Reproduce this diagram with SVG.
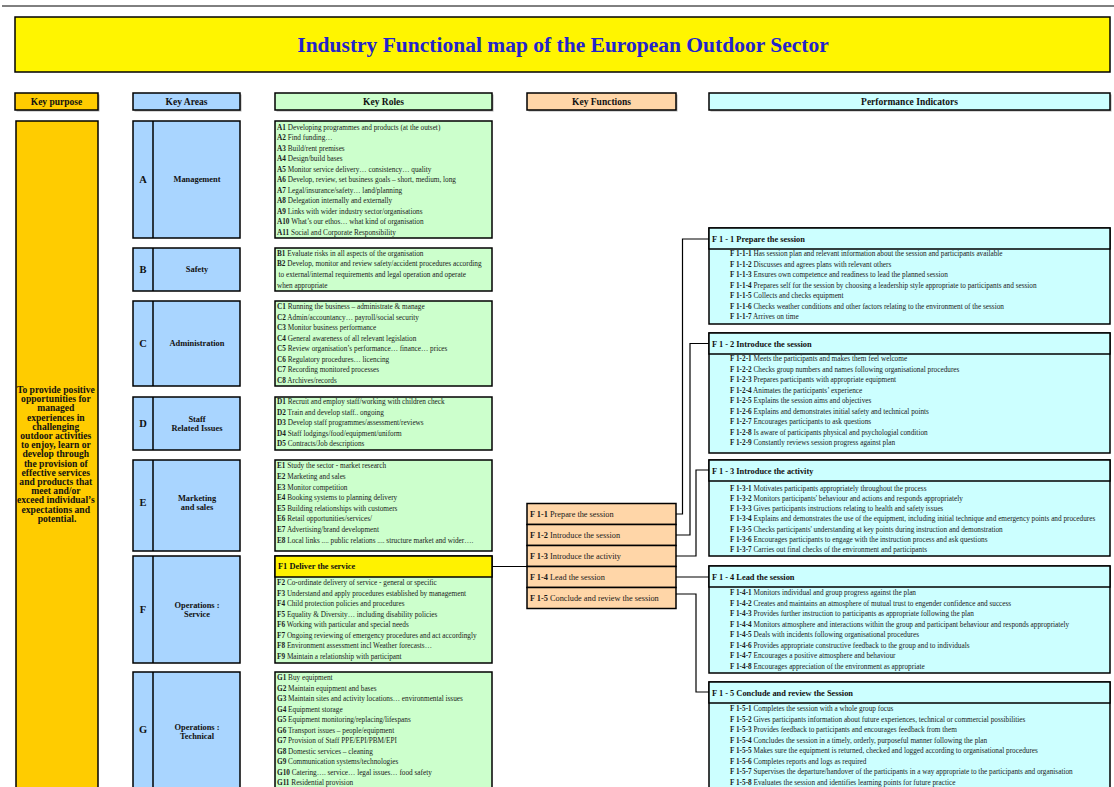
<svg xmlns="http://www.w3.org/2000/svg" width="1114" height="787" viewBox="0 0 1114 787">
<defs>
<style>
.t{font-family:"Liberation Serif","Times New Roman",serif;font-size:7.25px;fill:#1a1a1a}
.kf{font-family:"Liberation Serif","Times New Roman",serif;font-size:8.3px;fill:#1a1a1a}
.b{font-weight:bold}
.h{font-family:"Liberation Serif","Times New Roman",serif;font-size:9.5px;font-weight:bold;fill:#111;text-anchor:middle}
.kpt{font-family:"Liberation Serif","Times New Roman",serif;font-size:9.6px;font-weight:bold;fill:#111;text-anchor:middle}
.lbl{font-family:"Liberation Serif","Times New Roman",serif;font-size:8.4px;font-weight:bold;fill:#111;text-anchor:middle}
.let{font-family:"Liberation Serif","Times New Roman",serif;font-size:10.5px;font-weight:bold;fill:#111;text-anchor:middle}
.pt{font-family:"Liberation Serif","Times New Roman",serif;font-size:8.4px;font-weight:bold;fill:#111}
.box{stroke:#000;stroke-width:1.5}
.sh{fill:#b0b0b0}
.kp{fill:#FFCC00}
.ka{fill:#A9D5FF}
.kr{fill:#CCFFCC}
.kfn{fill:#FFD6A8}
.pi{fill:#CCFFFF}
.con{fill:none;stroke:#000;stroke-width:1.2}
</style>
</defs>
<rect width="1114" height="787" fill="#fff"/>
<line x1="2" y1="6" x2="1114" y2="6" stroke="#000" stroke-width="1"/>

<g id="title">
<rect x="15" y="17" width="1095" height="55" fill="#FFF500" class="box"/>
<text x="563" y="52" font-family="Liberation Serif, Times New Roman, serif" font-size="21.5" font-weight="bold" fill="#2323CC" text-anchor="middle">Industry Functional map of the European Outdoor Sector</text>
</g>

<g id="headers">
<rect x="16.5" y="94.5" width="83" height="17" class="sh"/>
<rect x="15" y="93" width="83" height="17" class="kp box"/>
<text x="56.5" y="104.8" class="h">Key purpose</text>
<rect x="134.5" y="94.5" width="107" height="17" class="sh"/>
<rect x="133" y="93" width="107" height="17" class="ka box"/>
<text x="186.5" y="104.8" class="h">Key Areas</text>
<rect x="276.5" y="94.5" width="217" height="17" class="sh"/>
<rect x="275" y="93" width="217" height="17" class="kr box"/>
<text x="383.5" y="104.8" class="h">Key Roles</text>
<rect x="528.5" y="94.5" width="149" height="17" class="sh"/>
<rect x="527" y="93" width="149" height="17" class="kfn box"/>
<text x="601.5" y="104.8" class="h">Key Functions</text>
<rect x="710.5" y="94.5" width="401" height="17" class="sh"/>
<rect x="709" y="93" width="401" height="17" class="pi box"/>
<text x="909.5" y="104.8" class="h">Performance Indicators</text>
</g>

<g id="key-purpose">
<rect x="16" y="121" width="82" height="680" class="kp box"/>
<text class="kpt">
<tspan x="57" y="393">To provide positive</tspan>
<tspan x="57" y="402.2">opportunities for</tspan>
<tspan x="57" y="411.4">managed</tspan>
<tspan x="57" y="420.6">experiences in</tspan>
<tspan x="57" y="429.8">challenging</tspan>
<tspan x="57" y="439">outdoor activities</tspan>
<tspan x="57" y="448.2">to enjoy, learn or</tspan>
<tspan x="57" y="457.4">develop through</tspan>
<tspan x="57" y="466.6">the provision of</tspan>
<tspan x="57" y="475.8">effective services</tspan>
<tspan x="57" y="485">and products that</tspan>
<tspan x="57" y="494.2">meet and/or</tspan>
<tspan x="57" y="503.4">exceed individual’s</tspan>
<tspan x="57" y="512.6">expectations and</tspan>
<tspan x="57" y="521.8">potential.</tspan>
</text>
</g>

<g id="area-A">
<rect x="133" y="121" width="107" height="117" class="ka box"/>
<line x1="153" y1="121" x2="153" y2="238" class="box"/>
<text x="143" y="183" class="let">A</text>
<text x="197" y="182" class="lbl">Management</text>
</g>
<g id="area-B">
<rect x="133" y="248" width="107" height="43" class="ka box"/>
<line x1="153" y1="248" x2="153" y2="291" class="box"/>
<text x="143" y="273" class="let">B</text>
<text x="197" y="272" class="lbl">Safety</text>
</g>
<g id="area-C">
<rect x="133" y="301" width="107" height="85" class="ka box"/>
<line x1="153" y1="301" x2="153" y2="386" class="box"/>
<text x="143" y="347" class="let">C</text>
<text x="197" y="346" class="lbl">Administration</text>
</g>
<g id="area-D">
<rect x="133" y="397" width="107" height="53" class="ka box"/>
<line x1="153" y1="397" x2="153" y2="450" class="box"/>
<text x="143" y="427" class="let">D</text>
<text x="197" y="422" class="lbl">Staff</text>
<text x="197" y="431" class="lbl">Related Issues</text>
</g>
<g id="area-E">
<rect x="133" y="460" width="107" height="91" class="ka box"/>
<line x1="153" y1="460" x2="153" y2="551" class="box"/>
<text x="143" y="506" class="let">E</text>
<text x="197" y="501" class="lbl">Marketing</text>
<text x="197" y="510" class="lbl">and sales</text>
</g>
<g id="area-F">
<rect x="133" y="556" width="107" height="107" class="ka box"/>
<line x1="153" y1="556" x2="153" y2="663" class="box"/>
<text x="143" y="613" class="let">F</text>
<text x="197" y="608" class="lbl">Operations :</text>
<text x="197" y="616.5" class="lbl">Service</text>
</g>
<g id="area-G">
<rect x="133" y="672" width="107" height="130" class="ka box"/>
<line x1="153" y1="672" x2="153" y2="802" class="box"/>
<text x="143" y="733" class="let">G</text>
<text x="197" y="730" class="lbl">Operations :</text>
<text x="197" y="738.5" class="lbl">Technical</text>
</g>

<g id="roles-A">
<rect x="275" y="121" width="217" height="117" class="kr box"/>
<text class="t">
<tspan x="277" y="129.5"><tspan class="b">A1</tspan> Developing programmes and products (at the outset)</tspan>
<tspan x="277" y="140"><tspan class="b">A2</tspan> Find funding…</tspan>
<tspan x="277" y="150.5"><tspan class="b">A3</tspan> Build/rent premises</tspan>
<tspan x="277" y="161"><tspan class="b">A4</tspan> Design/build bases</tspan>
<tspan x="277" y="171.5"><tspan class="b">A5</tspan> Monitor service delivery… consistency… quality</tspan>
<tspan x="277" y="182"><tspan class="b">A6</tspan> Develop, review, set business goals – short, medium, long</tspan>
<tspan x="277" y="192.5"><tspan class="b">A7</tspan> Legal/insurance/safety… land/planning</tspan>
<tspan x="277" y="203"><tspan class="b">A8</tspan> Delegation internally and externally</tspan>
<tspan x="277" y="213.5"><tspan class="b">A9</tspan> Links with wider industry sector/organisations</tspan>
<tspan x="277" y="224"><tspan class="b">A10</tspan> What’s our ethos… what kind of organisation</tspan>
<tspan x="277" y="234.5"><tspan class="b">A11</tspan> Social and Corporate Responsibility</tspan>
</text>
</g>
<g id="roles-B">
<rect x="275" y="248" width="217" height="43" class="kr box"/>
<text class="t">
<tspan x="277" y="255.8"><tspan class="b">B1</tspan> Evaluate risks in all aspects of the organisation</tspan>
<tspan x="277" y="266.4"><tspan class="b">B2</tspan> Develop, monitor and review safety/accident procedures according</tspan>
<tspan x="278.5" y="277">to external/internal requirements and legal operation and operate</tspan>
<tspan x="277" y="287.6">when appropriate</tspan>
</text>
</g>
<g id="roles-C">
<rect x="275" y="301" width="217" height="85" class="kr box"/>
<text class="t">
<tspan x="277" y="309.3"><tspan class="b">C1</tspan> Running the business – administrate &amp; manage</tspan>
<tspan x="277" y="319.8"><tspan class="b">C2</tspan> Admin/accountancy… payroll/social security</tspan>
<tspan x="277" y="330.3"><tspan class="b">C3</tspan> Monitor business performance</tspan>
<tspan x="277" y="340.8"><tspan class="b">C4</tspan> General awareness of all relevant legislation</tspan>
<tspan x="277" y="351.3"><tspan class="b">C5</tspan> Review organisation’s performance… finance… prices</tspan>
<tspan x="277" y="361.8"><tspan class="b">C6</tspan> Regulatory procedures… licencing</tspan>
<tspan x="277" y="372.3"><tspan class="b">C7</tspan> Recording monitored processes</tspan>
<tspan x="277" y="382.8"><tspan class="b">C8</tspan> Archives/records</tspan>
</text>
</g>
<g id="roles-D">
<rect x="275" y="397" width="217" height="53" class="kr box"/>
<text class="t">
<tspan x="277" y="404.3"><tspan class="b">D1</tspan> Recruit and employ staff/working with children check</tspan>
<tspan x="277" y="414.8"><tspan class="b">D2</tspan> Train and develop staff.. ongoing</tspan>
<tspan x="277" y="425.3"><tspan class="b">D3</tspan> Develop staff programmes/assessment/reviews</tspan>
<tspan x="277" y="435.8"><tspan class="b">D4</tspan> Staff lodgings/food/equipment/uniform</tspan>
<tspan x="277" y="446.3"><tspan class="b">D5</tspan> Contracts/Job descriptions</tspan>
</text>
</g>
<g id="roles-E">
<rect x="275" y="460" width="217" height="91" class="kr box"/>
<text class="t">
<tspan x="277" y="468.3"><tspan class="b">E1</tspan> Study the sector - market research</tspan>
<tspan x="277" y="479"><tspan class="b">E2</tspan> Marketing and sales</tspan>
<tspan x="277" y="489.6"><tspan class="b">E3</tspan> Monitor competition</tspan>
<tspan x="277" y="500.2"><tspan class="b">E4</tspan> Booking systems to planning delivery</tspan>
<tspan x="277" y="510.8"><tspan class="b">E5</tspan> Building relationships with customers</tspan>
<tspan x="277" y="521.4"><tspan class="b">E6</tspan> Retail opportunities/services/</tspan>
<tspan x="277" y="532"><tspan class="b">E7</tspan> Advertising/brand development</tspan>
<tspan x="277" y="542.6"><tspan class="b">E8</tspan> Local links .... public relations .... structure market and wider….</tspan>
</text>
</g>
<g id="roles-F">
<rect x="275" y="556" width="217" height="107" class="kr box"/>
<rect x="275" y="556" width="217" height="21" fill="#FFF200" class="box"/>
<text x="278" y="569" class="pt">F1 Deliver the service</text>
<text class="t">
<tspan x="277" y="585.3"><tspan class="b">F2</tspan> Co-ordinate delivery of service - general or specific</tspan>
<tspan x="277" y="595.8"><tspan class="b">F3</tspan> Understand and apply procedures established by management</tspan>
<tspan x="277" y="606.3"><tspan class="b">F4</tspan> Child protection policies and procedures</tspan>
<tspan x="277" y="616.8"><tspan class="b">F5</tspan> Equality &amp; Diversity… including disability policies</tspan>
<tspan x="277" y="627.3"><tspan class="b">F6</tspan> Working with particular and special needs</tspan>
<tspan x="277" y="637.8"><tspan class="b">F7</tspan> Ongoing reviewing of emergency procedures and act accordingly</tspan>
<tspan x="277" y="648.3"><tspan class="b">F8</tspan> Environment assessment incl Weather forecasts…</tspan>
<tspan x="277" y="658.8"><tspan class="b">F9</tspan> Maintain a relationship with participant</tspan>
</text>
</g>
<g id="roles-G">
<rect x="275" y="672" width="217" height="130" class="kr box"/>
<text class="t">
<tspan x="277" y="680.3"><tspan class="b">G1</tspan> Buy equipment</tspan>
<tspan x="277" y="690.8"><tspan class="b">G2</tspan> Maintain equipment and bases</tspan>
<tspan x="277" y="701.3"><tspan class="b">G3</tspan> Maintain sites and activity locations… environmental issues</tspan>
<tspan x="277" y="711.8"><tspan class="b">G4</tspan> Equipment storage</tspan>
<tspan x="277" y="722.3"><tspan class="b">G5</tspan> Equipment monitoring/replacing/lifespans</tspan>
<tspan x="277" y="732.8"><tspan class="b">G6</tspan> Transport issues – people/equipment</tspan>
<tspan x="277" y="743.3"><tspan class="b">G7</tspan> Provision of Staff PPE/EPI/PBM/EPI</tspan>
<tspan x="277" y="753.8"><tspan class="b">G8</tspan> Domestic services – cleaning</tspan>
<tspan x="277" y="764.3"><tspan class="b">G9</tspan> Communication systems/technologies</tspan>
<tspan x="277" y="774.8"><tspan class="b">G10</tspan> Catering…. service… legal issues… food safety</tspan>
<tspan x="277" y="785.3"><tspan class="b">G11</tspan> Residential provision</tspan>
</text>
</g>

<g id="kf-1"><rect x="527" y="503.5" width="149" height="21" class="kfn box"/><text x="530" y="516.8" class="kf"><tspan class="b">F 1-1</tspan> Prepare the session</text></g>
<g id="kf-2"><rect x="527" y="524.5" width="149" height="21" class="kfn box"/><text x="530" y="537.8" class="kf"><tspan class="b">F 1-2</tspan> Introduce the session</text></g>
<g id="kf-3"><rect x="527" y="545.5" width="149" height="21" class="kfn box"/><text x="530" y="558.8" class="kf"><tspan class="b">F 1-3</tspan> Introduce the activity</text></g>
<g id="kf-4"><rect x="527" y="566.5" width="149" height="21" class="kfn box"/><text x="530" y="579.8" class="kf"><tspan class="b">F 1-4</tspan> Lead the session</text></g>
<g id="kf-5"><rect x="527" y="587.5" width="149" height="21" class="kfn box"/><text x="530" y="600.8" class="kf"><tspan class="b">F 1-5</tspan> Conclude and review the session</text></g>

<g id="pi-1">
<rect x="709" y="228" width="401" height="96" class="pi box"/>
<rect x="709" y="228" width="401" height="21" class="pi box"/>
<text x="712" y="241.5" class="pt">F 1 - 1 Prepare the session</text>
<text class="t">
<tspan x="730" y="256.3"><tspan class="b">F 1-1-1</tspan> Has session plan and relevant information about the session and participants available</tspan>
<tspan x="730" y="266.8"><tspan class="b">F 1-1-2</tspan> Discusses and agrees plans with relevant others</tspan>
<tspan x="730" y="277.3"><tspan class="b">F 1-1-3</tspan> Ensures own competence and readiness to lead the planned session</tspan>
<tspan x="730" y="287.8"><tspan class="b">F 1-1-4</tspan> Prepares self for the session by choosing a leadership style appropriate to participants and session</tspan>
<tspan x="730" y="298.3"><tspan class="b">F 1-1-5</tspan> Collects and checks equipment</tspan>
<tspan x="730" y="308.8"><tspan class="b">F 1-1-6</tspan> Checks weather conditions and other factors relating to the environment of the session</tspan>
<tspan x="730" y="319.3"><tspan class="b">F 1-1-7</tspan> Arrives on time</tspan>
</text>
</g>
<g id="pi-2">
<rect x="709" y="333" width="401" height="120" class="pi box"/>
<rect x="709" y="333" width="401" height="21" class="pi box"/>
<text x="712" y="346.5" class="pt">F 1 - 2 Introduce the session</text>
<text class="t">
<tspan x="730" y="361.3"><tspan class="b">F 1-2-1</tspan> Meets the participants and makes them feel welcome</tspan>
<tspan x="730" y="371.8"><tspan class="b">F 1-2-2</tspan> Checks group numbers and names following organisational procedures</tspan>
<tspan x="730" y="382.3"><tspan class="b">F 1-2-3</tspan> Prepares participants with appropriate equipment</tspan>
<tspan x="730" y="392.8"><tspan class="b">F 1-2-4</tspan> Animates the participants’ experience</tspan>
<tspan x="730" y="403.3"><tspan class="b">F 1-2-5</tspan> Explains the session aims and objectives</tspan>
<tspan x="730" y="413.8"><tspan class="b">F 1-2-6</tspan> Explains and demonstrates initial safety and technical points</tspan>
<tspan x="730" y="424.3"><tspan class="b">F 1-2-7</tspan> Encourages participants to ask questions</tspan>
<tspan x="730" y="434.8"><tspan class="b">F 1-2-8</tspan> Is aware of participants physical and psychologial condition</tspan>
<tspan x="730" y="445.3"><tspan class="b">F 1-2-9</tspan> Constantly reviews session progress against plan</tspan>
</text>
</g>
<g id="pi-3">
<rect x="709" y="460" width="401" height="96" class="pi box"/>
<rect x="709" y="460" width="401" height="21" class="pi box"/>
<text x="712" y="473.5" class="pt">F 1 - 3 Introduce the activity</text>
<text class="t">
<tspan x="730" y="490.5"><tspan class="b">F 1-3-1</tspan> Motivates participants appropriately throughout the process</tspan>
<tspan x="730" y="500.8"><tspan class="b">F 1-3-2</tspan> Monitors participants' behaviour and actions and responds appropriately</tspan>
<tspan x="730" y="511.1"><tspan class="b">F 1-3-3</tspan> Gives participants instructions relating to health and safety issues</tspan>
<tspan x="730" y="521.4"><tspan class="b">F 1-3-4</tspan> Explains and demonstrates the use of the equipment, including initial technique and emergency points and procedures</tspan>
<tspan x="730" y="531.7"><tspan class="b">F 1-3-5</tspan> Checks participants' understanding at key points during instruction and demonstration</tspan>
<tspan x="730" y="542"><tspan class="b">F 1-3-6</tspan> Encourages participants to engage with the instruction process and ask questions</tspan>
<tspan x="730" y="552.3"><tspan class="b">F 1-3-7</tspan> Carries out final checks of the environment and participants</tspan>
</text>
</g>
<g id="pi-4">
<rect x="709" y="566" width="401" height="107" class="pi box"/>
<rect x="709" y="566" width="401" height="21" class="pi box"/>
<text x="712" y="579.5" class="pt">F 1 - 4 Lead the session</text>
<text class="t">
<tspan x="730" y="595.3"><tspan class="b">F 1-4-1</tspan> Monitors individual and group progress against the plan</tspan>
<tspan x="730" y="605.8"><tspan class="b">F 1-4-2</tspan> Creates and maintains an atmosphere of mutual trust to engender confidence and success</tspan>
<tspan x="730" y="616.3"><tspan class="b">F 1-4-3</tspan> Provides further instruction to participants as appropriate following the plan</tspan>
<tspan x="730" y="626.8"><tspan class="b">F 1-4-4</tspan> Monitors atmosphere and interactions within the group and participant behaviour and responds appropriately</tspan>
<tspan x="730" y="637.3"><tspan class="b">F 1-4-5</tspan> Deals with incidents following organisational procedures</tspan>
<tspan x="730" y="647.8"><tspan class="b">F 1-4-6</tspan> Provides appropriate constructive feedback to the group and to individuals</tspan>
<tspan x="730" y="658.3"><tspan class="b">F 1-4-7</tspan> Encourages a positive atmosphere and behaviour</tspan>
<tspan x="730" y="668.8"><tspan class="b">F 1-4-8</tspan> Encourages appreciation of the environment as appropriate</tspan>
</text>
</g>
<g id="pi-5">
<rect x="709" y="682" width="401" height="120" class="pi box"/>
<rect x="709" y="682" width="401" height="21" class="pi box"/>
<text x="712" y="696" class="pt">F 1 - 5 Conclude and review the Session</text>
<text class="t">
<tspan x="730" y="711.3"><tspan class="b">F 1-5-1</tspan> Completes the session with a whole group focus</tspan>
<tspan x="730" y="721.8"><tspan class="b">F 1-5-2</tspan> Gives participants information about future experiences, technical or commercial possibilities</tspan>
<tspan x="730" y="732.3"><tspan class="b">F 1-5-3</tspan> Provides feedback to participants and encourages feedback from them</tspan>
<tspan x="730" y="742.8"><tspan class="b">F 1-5-4</tspan> Concludes the session in a timely, orderly, purposeful manner following the plan</tspan>
<tspan x="730" y="753.3"><tspan class="b">F 1-5-5</tspan> Makes sure the equipment is returned, checked and logged according to organisational procedures</tspan>
<tspan x="730" y="763.8"><tspan class="b">F 1-5-6</tspan> Completes reports and logs as required</tspan>
<tspan x="730" y="774.3"><tspan class="b">F 1-5-7</tspan> Supervises the departure/handover of the participants in a way appropriate to the participants and organisation</tspan>
<tspan x="730" y="784.8"><tspan class="b">F 1-5-8</tspan> Evaluates the session and identifies learning points for future practice</tspan>
</text>
</g>

<g id="connectors">
<polyline class="con" points="492,566.5 527,566.5"/>
<polyline class="con" points="676,514 682.5,514 682.5,239 709,239"/>
<polyline class="con" points="676,535 690,535 690,343.5 709,343.5"/>
<polyline class="con" points="676,556 696,556 696,470 709,470"/>
<polyline class="con" points="676,577 709,577"/>
<polyline class="con" points="676,594 696,594 696,692 709,692"/>
</g>
</svg>
